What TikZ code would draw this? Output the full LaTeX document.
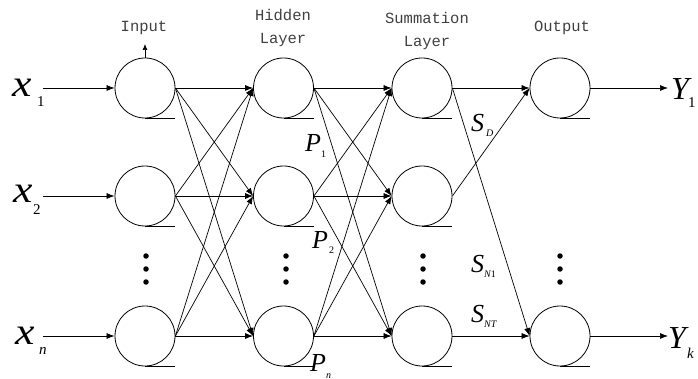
\documentclass[tikz,border=0pt]{standalone}
\usepackage{fontspec}
\setmainfont{Liberation Serif}
\newfontfamily\lblfont{Liberation Mono}
\usetikzlibrary{arrows.meta}
\begin{document}
\begin{tikzpicture}[x=1pt,y=-1pt,
  neuron/.style={circle,draw,line width=0.8pt,minimum size=60pt,inner sep=0pt},
  conn/.style={line width=0.7pt,-{Latex[length=8pt,width=6pt]}},
  lbl/.style={font=\lblfont\fontsize{15.5}{23}\selectfont,text=black!75,align=center},
  big/.style={inner sep=0pt,anchor=base west,xscale=1.15,font=\itshape\fontsize{38}{38}\selectfont},
  bigY/.style={inner sep=0pt,anchor=base west,font=\itshape\fontsize{32}{32}\selectfont},
  mid/.style={inner sep=0pt,anchor=base west,font=\itshape\fontsize{26}{26}\selectfont},
  subs/.style={inner sep=0pt,anchor=base west,font=\fontsize{15}{15}\selectfont},
  subsi/.style={inner sep=0pt,anchor=base west,font=\itshape\fontsize{15}{15}\selectfont},
  tiny/.style={inner sep=0pt,anchor=base west,font=\fontsize{10}{10}\selectfont},
  tinyi/.style={inner sep=0pt,anchor=base west,font=\itshape\fontsize{10}{10}\selectfont},
  dot/.style={circle,fill,inner sep=0pt,minimum size=5.5pt}
]
\useasboundingbox (0,0) rectangle (698,379);

% neurons
\foreach \c/\x in {i/145,h/283.5,s/422}{
  \node[neuron] (\c1) at (\x,88) {};
  \node[neuron] (\c2) at (\x,196) {};
  \node[neuron] (\c3) at (\x,336) {};
}
\node[neuron] (o1) at (560,88) {};
\node[neuron] (o3) at (560,336) {};
\foreach \n in {i1,i2,i3,h1,h2,h3,s1,s2,s3,o1,o3}{
  \draw[line width=0.8pt] (\n.south) -- ++(30,0);
}

% dots
\foreach \x/\n in {146/i,286/h,423/s,560/o}{
  \node[dot] (\n d1) at (\x,256) {};
  \node[dot] (\n d2) at (\x,269) {};
  \node[dot] (\n d3) at (\x,282) {};
}

% layer labels
\node[lbl] (linput) at (144,28) {Input};
\node[lbl] (lhidden) at (283,28) {Hidden\\Layer};
\node[lbl] (lsum) at (427,31) {Summation\\Layer};
\node[lbl] (lout) at (562,28) {Output};
\coordinate (itop) at (145,44);
\draw[line width=0.7pt,-{Latex[length=6pt,width=5pt]}] (i1.north) -- (itop);

% inputs
\node[big] (x1) at (12,97) {x};
\node[subs] (x1s) at (37,107) {1};
\node[big] (x2) at (13,203) {x};
\node[subs] (x2s) at (33,215) {2};
\node[big] (xn) at (15,344) {x};
\node[subsi] (xns) at (39,354) {n};
\coordinate (a1) at (43,88);
\coordinate (a2) at (43,196);
\coordinate (a3) at (43,336);
\draw[conn] (a1) -- (i1.west);
\draw[conn] (a2) -- (i2.west);
\draw[conn] (a3) -- (i3.west);

% full connections
\foreach \a in {1,2,3}{
  \foreach \b in {1,2,3}{
    \draw[conn] (i\a.east) -- (h\b.west);
    \draw[conn] (h\a.east) -- (s\b.west);
  }
}
\draw[conn] (s1.east) -- (o1.west);
\draw[conn] (s2.east) -- (o1.west);
\draw[conn] (s1.east) -- (o3.west);
\draw[conn] (s3.east) -- (o3.west);

% outputs
\coordinate (b1) at (668,88);
\coordinate (b3) at (668,336);
\draw[conn] (o1.east) -- (b1);
\draw[conn] (o3.east) -- (b3);
\node[bigY] (y1) at (671,100) {Y};
\node[subs] (y1s) at (688,108) {1};
\node[bigY] (yk) at (668,348) {Y};
\node[subsi] (yks) at (687,358) {k};

% P labels
\node[mid] (p1) at (305,152) {P};
\node[tiny] (p1s) at (321,158) {1};
\node[mid] (p2) at (312,248) {P};
\node[tiny] (p2s) at (329,254) {2};
\node[mid] (pn) at (310,371) {P};
\node[tinyi] (pns) at (326,378) {n};

% S labels
\node[mid] (sd) at (471,132) {S};
\node[tinyi] (sds) at (486,137) {D};
\node[mid] (sn1) at (471,272) {S};
\node[tinyi] (sn1s) at (484,277) {N\upshape 1};
\node[mid] (snt) at (471,322) {S};
\node[tinyi] (snts) at (484,327) {NT};
\end{tikzpicture}
\end{document}
